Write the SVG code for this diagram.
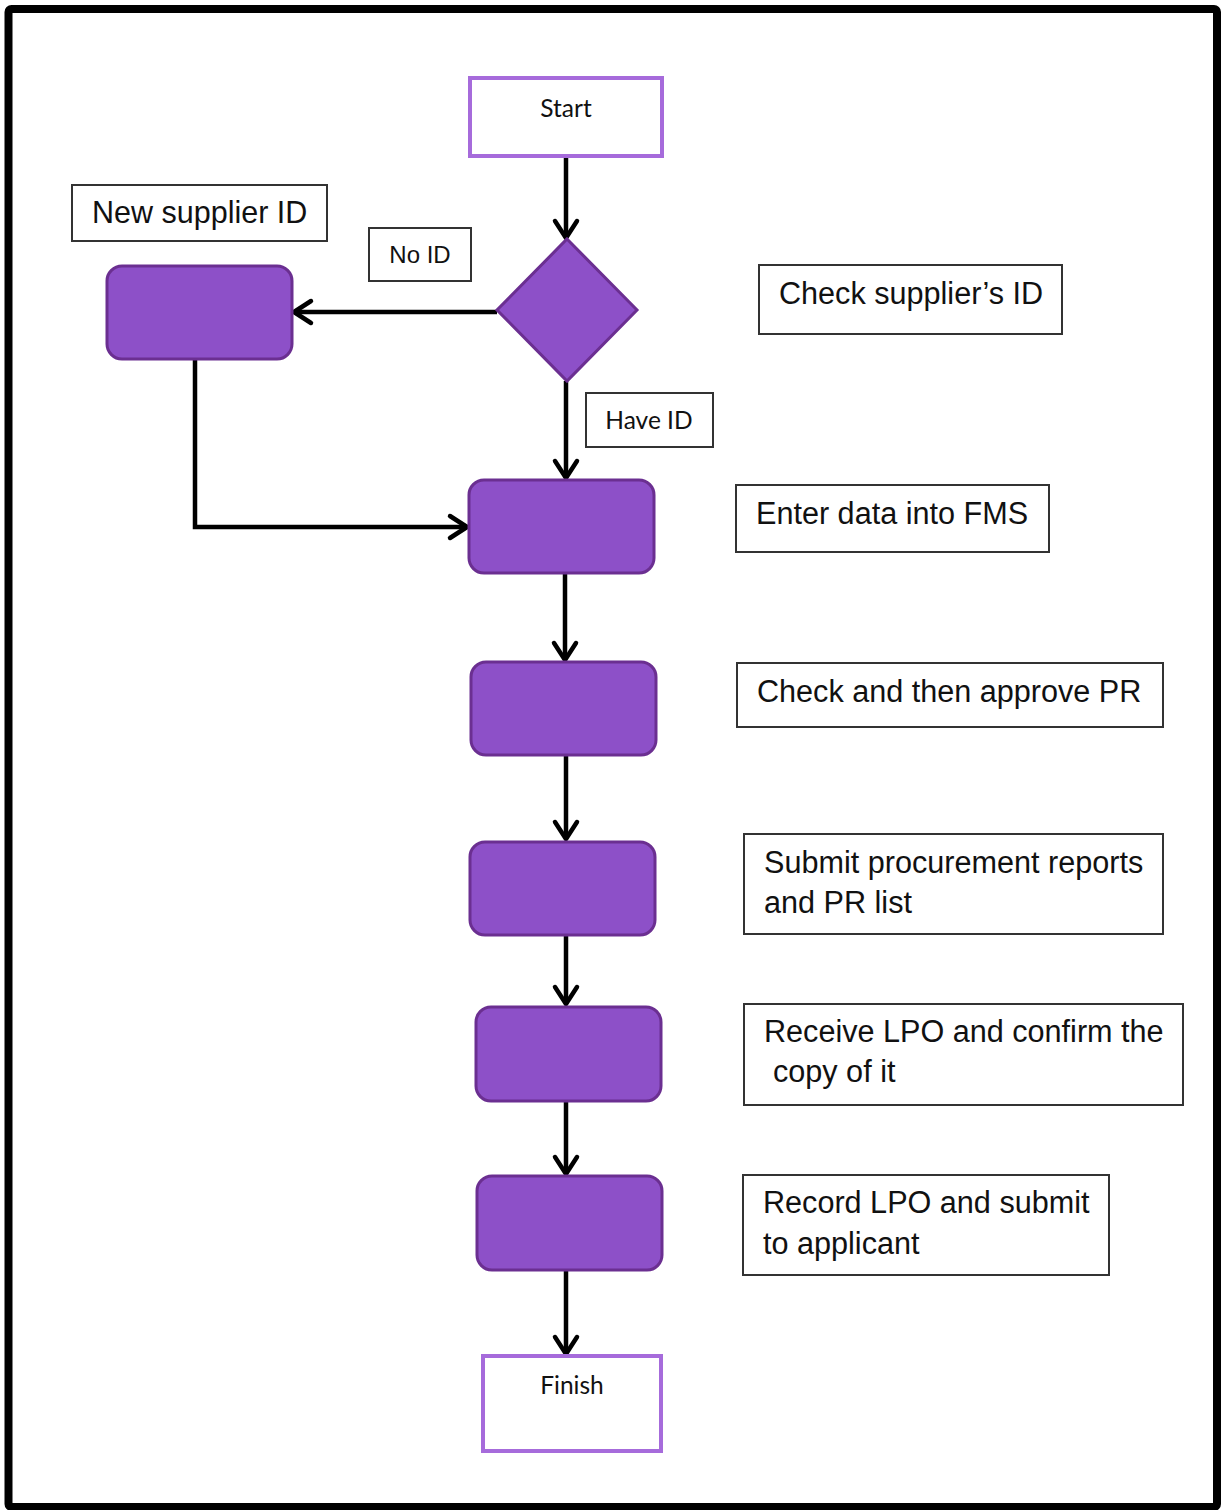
<svg xmlns="http://www.w3.org/2000/svg" width="1225" height="1510" viewBox="0 0 1225 1510">
<defs>
<marker id="arr" markerUnits="userSpaceOnUse" markerWidth="30" markerHeight="30" refX="0" refY="0" viewBox="-20 -15 24 30" orient="auto" overflow="visible">
<path d="M-17,-11 L0,0 L-17,11" fill="none" stroke="#000" stroke-width="4.5" stroke-linecap="round" stroke-linejoin="round"/>
</marker>
</defs>
<style>
.term{fill:#fff;stroke:#A66BDB;stroke-width:4}
.proc{fill:#8D50C8;stroke:#6B2F91;stroke-width:3}
.lbl{fill:#fff;stroke:#333;stroke-width:2}
.conn{fill:none;stroke:#000;stroke-width:4.5;marker-end:url(#arr)}
.cal{font-family:Lato,"Open Sans",sans-serif;font-size:24.5px;fill:#111}
.ar{font-family:"Liberation Sans",Arial,sans-serif;fill:#111;font-size:30.6px}
</style>
<rect x="8.5" y="9" width="1208.5" height="1498" fill="#fff" stroke="#000" stroke-width="8" rx="3"/>

<g id="connectors">
<line class="conn" x1="566" y1="157" x2="566" y2="238"/>
<line class="conn" x1="497" y1="312" x2="294" y2="312"/>
<line class="conn" x1="566" y1="381" x2="566" y2="478"/>
<polyline class="conn" points="195,360 195,527 467,527"/>
<line class="conn" x1="565" y1="574" x2="565" y2="660"/>
<line class="conn" x1="566" y1="755" x2="566" y2="839"/>
<line class="conn" x1="566" y1="936" x2="566" y2="1004"/>
<line class="conn" x1="566" y1="1102" x2="566" y2="1174"/>
<line class="conn" x1="566" y1="1271" x2="566" y2="1354"/>
</g>

<g id="start">
<rect class="term" x="470" y="78" width="192" height="78"/>
<text class="cal" x="566" y="117" text-anchor="middle">Start</text>
</g>

<g id="decision">
<polygon class="proc" points="567,239 637,310 567,381 497,310"/>
</g>

<g id="new-supplier">
<rect class="proc" x="107" y="266" width="185" height="93" rx="15"/>
</g>

<g id="enter-data">
<rect class="proc" x="469" y="480" width="185" height="93" rx="15"/>
</g>

<g id="approve">
<rect class="proc" x="471" y="662" width="185" height="93" rx="15"/>
</g>

<g id="submit">
<rect class="proc" x="470" y="842" width="185" height="93" rx="15"/>
</g>

<g id="receive">
<rect class="proc" x="476" y="1007" width="185" height="94" rx="15"/>
</g>

<g id="record">
<rect class="proc" x="477" y="1176" width="185" height="94" rx="15"/>
</g>

<g id="finish">
<rect class="term" x="483" y="1356" width="178" height="95"/>
<text class="cal" x="572" y="1394" text-anchor="middle">Finish</text>
</g>

<g id="label-new-supplier">
<rect class="lbl" x="72" y="185" width="255" height="56"/>
<text class="ar" x="92" y="223" style="font-size:30.5px">New supplier ID</text>
</g>

<g id="label-no-id">
<rect class="lbl" x="369" y="228" width="102" height="53"/>
<text class="ar" x="420" y="263" style="font-size:24px" text-anchor="middle">No ID</text>
</g>

<g id="label-have-id">
<rect class="lbl" x="586" y="393" width="127" height="54"/>
<text class="cal" x="649" y="429" text-anchor="middle">Have ID</text>
</g>

<g id="label-check-supplier">
<rect class="lbl" x="759" y="265" width="303" height="69"/>
<text class="ar" x="779" y="304">Check supplier’s ID</text>
</g>

<g id="label-enter-data">
<rect class="lbl" x="736" y="485" width="313" height="67"/>
<text class="ar" x="756" y="524">Enter data into FMS</text>
</g>

<g id="label-approve">
<rect class="lbl" x="737" y="663" width="426" height="64"/>
<text class="ar" x="757" y="702">Check and then approve PR</text>
</g>

<g id="label-submit">
<rect class="lbl" x="744" y="834" width="419" height="100"/>
<text class="ar" x="764" y="873">Submit procurement reports</text>
<text class="ar" x="764" y="913">and PR list</text>
</g>

<g id="label-receive">
<rect class="lbl" x="744" y="1004" width="439" height="101"/>
<text class="ar" x="764" y="1042">Receive LPO and confirm the</text>
<text class="ar" x="773" y="1082">copy of it</text>
</g>

<g id="label-record">
<rect class="lbl" x="743" y="1175" width="366" height="100"/>
<text class="ar" x="763" y="1213">Record LPO and submit</text>
<text class="ar" x="763" y="1254">to applicant</text>
</g>
</svg>
